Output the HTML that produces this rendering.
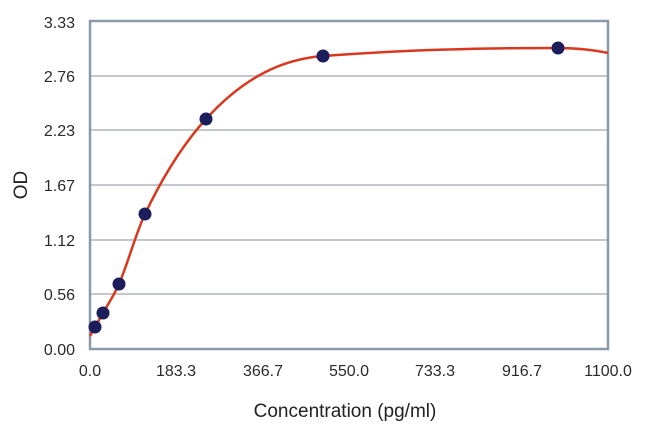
<!DOCTYPE html>
<html><head><style>body{margin:0;background:#fff}svg{display:block}</style></head><body>
<svg width="650" height="443" xmlns="http://www.w3.org/2000/svg" font-family="Liberation Sans, sans-serif">
<g stroke="#c4c8cc" stroke-width="2">
<line x1="90" y1="76" x2="608" y2="76"/><line x1="90" y1="130" x2="608" y2="130"/>
<line x1="90" y1="185" x2="608" y2="185"/><line x1="90" y1="240" x2="608" y2="240"/>
<line x1="90" y1="294" x2="608" y2="294"/>
</g>
<rect x="90" y="21" width="518" height="328" fill="none" stroke="#8a9aa8" stroke-width="2.5"/>
<path d="M90,336 L95,327 L103,313 C108,304 114,295.5 119,284 C127.7,264 136.3,232 145,214 C165,172 186,141 206,119 C245,76 284,59 323,56 C400,50 480,48 558,48 C575,48 595,50 608,53" fill="none" stroke="#d9381e" stroke-width="2.5"/>
<g fill="#1c1e5c">
<circle cx="95" cy="327" r="6.5"/><circle cx="103" cy="313" r="6.5"/><circle cx="119" cy="284" r="6.5"/>
<circle cx="145" cy="214" r="6.5"/><circle cx="206" cy="119" r="6.5"/><circle cx="323" cy="56" r="6.5"/><circle cx="558" cy="48" r="6.5"/>
</g>
<g font-size="16" fill="#2a2a2a" text-anchor="end">
<text x="75" y="28">3.33</text><text x="75" y="82">2.76</text><text x="75" y="136">2.23</text>
<text x="75" y="191">1.67</text><text x="75" y="246">1.12</text><text x="75" y="300">0.56</text><text x="75" y="355">0.00</text>
</g>
<g font-size="16" fill="#2a2a2a" text-anchor="middle">
<text x="90" y="376">0.0</text><text x="176" y="376">183.3</text><text x="263" y="376">366.7</text>
<text x="349" y="376">550.0</text><text x="435" y="376">733.3</text><text x="522" y="376">916.7</text><text x="608" y="376">1100.0</text>
</g>
<text x="345" y="417" font-size="19" fill="#222" text-anchor="middle">Concentration (pg/ml)</text>
<text transform="translate(27,185) rotate(-90)" font-size="19" fill="#222" text-anchor="middle">OD</text>
</svg>
</body></html>
